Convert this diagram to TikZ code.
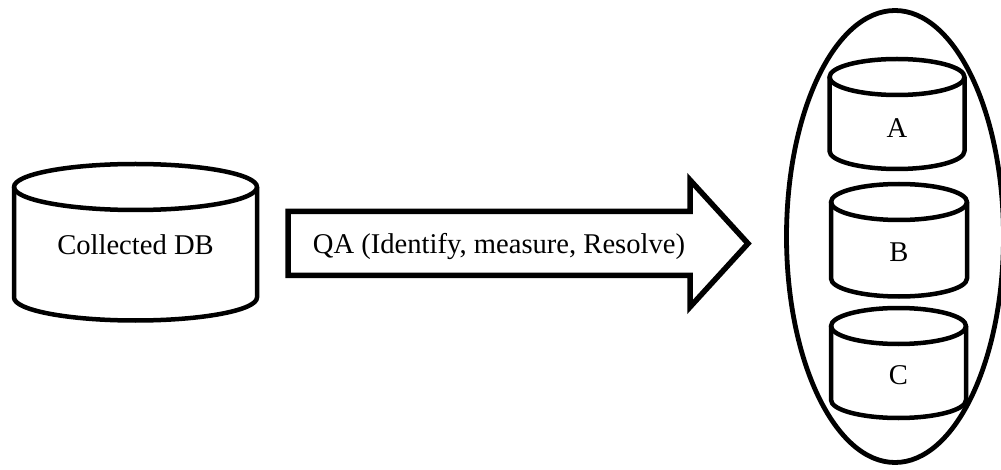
\documentclass[tikz,border=0pt]{standalone}
\usepackage{fontspec}
\setmainfont{Liberation Serif}

% A database drum: centre x, top-rim y, bottom-rim y, x radius, y radius
\newcommand\dbdrum[5]{%
  \draw[outline] (#1-#4,#2) -- (#1-#4,#3)
    arc[start angle=180, end angle=360, x radius=#4, y radius=#5] -- (#1+#4,#2);
  \draw[outline] (#1,#2) ellipse[x radius=#4, y radius=#5];
}

\begin{document}
\begin{tikzpicture}[x=1pt, y=1pt,
  outline/.style={draw=black, line width=4.5pt, line join=round},
  txt/.style={font=\fontsize{28.6}{32}\selectfont, inner sep=0pt}]
  \useasboundingbox (0,0) rectangle (1001,469);
  \clip (0,0) rectangle (1001,469);

  % source database
  \dbdrum{135.5}{282}{171.5}{121.5}{23}
  \node[txt] (cdb) at (135.5,224) {Collected DB};

  % block arrow for the QA step
  \draw[draw=black, line width=5.5pt, line join=miter]
    (288,257.5) coordinate (tailtop) -- (690,257.5) -- (690,289)
    -- (748,225.5) coordinate (tip) -- (690,162) -- (690,193.5)
    -- (288,193.5) coordinate (tailbot) -- cycle;
  \node[txt] (qa) at (499,222) {QA (Identify, measure, Resolve)};

  % grouping ellipse around the resulting databases
  \draw[draw=black, line width=4.8pt] (895,232.5) ellipse[x radius=108.5, y radius=226];

  % resulting databases
  \dbdrum{897}{392}{318}{67.5}{18}
  \node[txt] (a) at (897,341) {A};
  \dbdrum{899}{267}{190.5}{68}{18}
  \node[txt] (b) at (899,217) {B};
  \dbdrum{898.5}{143}{69}{67.5}{18}
  \node[txt] (c) at (898.5,94) {C};
\end{tikzpicture}
\end{document}
